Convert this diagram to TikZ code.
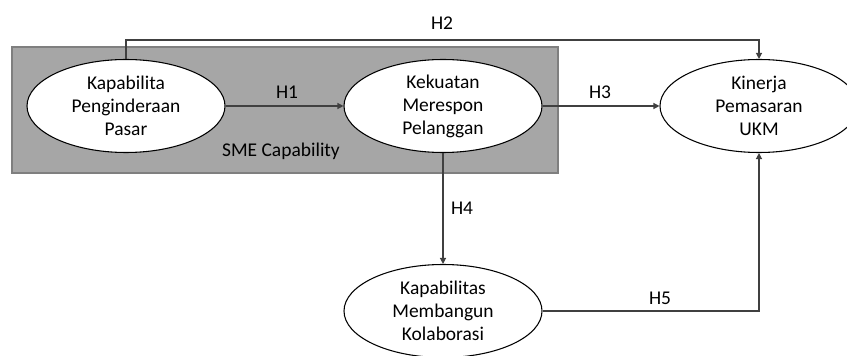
\documentclass[tikz,border=0pt]{standalone}
\usepackage{fontspec}
\setmainfont{Carlito}
\usetikzlibrary{shapes.geometric,arrows.meta}
\definecolor{boxgray}{HTML}{A6A6A6}
\definecolor{boxedge}{HTML}{7F7F7F}
\definecolor{linegray}{HTML}{404040}
\tikzset{
  construct/.style={ellipse, draw=black, line width=0.8pt, fill=white,
    minimum width=148.5pt, minimum height=69.75pt, inner sep=0pt,
    align=center, font=\fontsize{14.6}{17.3}\selectfont},
  link/.style={draw=linegray, line width=0.9pt, -{Triangle[length=4.5pt,width=4.5pt]}},
  hlabel/.style={font=\fontsize{14.6}{17.3}\selectfont, inner sep=0pt}
}
\begin{document}
\begin{tikzpicture}[x=0.75pt,y=-0.75pt]
\clip (0,0) rectangle (847,356);
\fill[white] (0,0) rectangle (847,356);
\filldraw[fill=boxgray, draw=boxedge, line width=0.9pt] (12,47) rectangle (558,173);
\node[construct] (e1) at (126,106) {Kapabilita\\Penginderaan\\Pasar};
\node[construct] (e2) at (443,106) {Kekuatan\\Merespon\\Pelanggan};
\node[construct] (e3) at (759,106) {Kinerja\\Pemasaran\\UKM};
\node[construct] (e4) at (443,311) {Kapabilitas\\Membangun\\Kolaborasi};
\node[hlabel] (sme) at (281,151) {SME Capability};
\draw[link] (e1.east) -- (e2.west);
\draw[link] (e1.north) -- ++(0,-19) -| (e3.north);
\draw[link] (e2.east) -- (e3.west);
\draw[link] (e2.south) -- (e4.north);
\draw[link] (e4.east) -| (e3.south);
\node[hlabel] (h1) at (287,92) {H1};
\node[hlabel] (h2) at (442,23) {H2};
\node[hlabel] (h3) at (600,92) {H3};
\node[hlabel] (h4) at (462,208) {H4};
\node[hlabel] (h5) at (660,298) {H5};
\end{tikzpicture}
\end{document}
